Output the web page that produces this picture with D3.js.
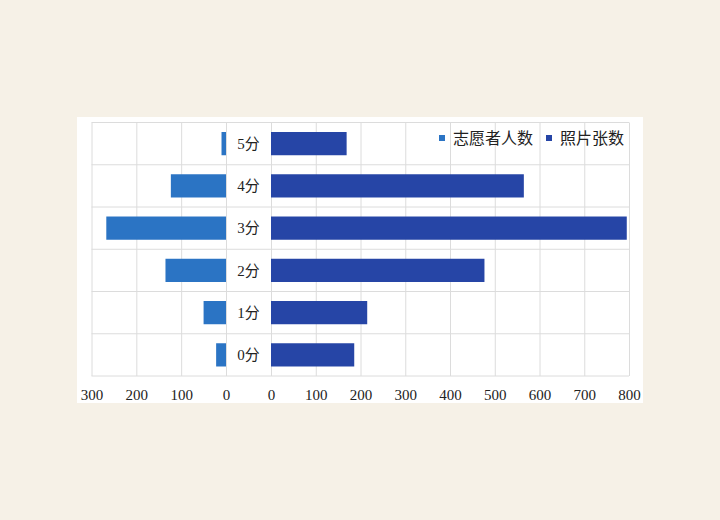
<!DOCTYPE html>
<html>
<head>
<meta charset="utf-8">
<script src="https://cdn.jsdelivr.net/npm/d3@7"></script>
<style>
  body { margin: 0; background: #f6f1e7; }
  text { font-family: "Liberation Serif", "Noto Sans CJK SC", serif; fill: #222; }
</style>
</head>
<body>
<div id="chart"></div>
<script>
// data
var categories = ["0分", "1分", "2分", "3分", "4分", "5分"]
var volunteers = [22, 50, 135, 267, 123, 10]      // 志愿者人数
var photos = [186, 215, 477, 795, 565, 169]       // 照片张数
var leftTicks = [300, 200, 100, 0]
var rightTicks = [0, 100, 200, 300, 400, 500, 600, 700, 800]
var seriesNames = ["志愿者人数", "照片张数"]
var seriesColors = ["#2b74c4", "#2645a6"]

function renderChart(frame_id) {
    let width = 720
    let height = 520
    let top = 122.5, bottom = 376

    var svg = d3.select("#" + frame_id)
        .append("svg")
        .attr("width", width)
        .attr("height", height)

    // white card
    svg.append("rect")
        .attr("x", 77).attr("y", 117)
        .attr("width", 566).attr("height", 286)
        .attr("fill", "#fff")

    var xLeft = d3.scaleLinear().domain([300, 0]).range([91.5, 226])
    var xRight = d3.scaleLinear().domain([0, 800]).range([271, 629])

    var y = d3.scaleBand()
        .domain(categories.slice().reverse())
        .range([top, bottom])
        .paddingInner(0.45)
        .paddingOuter(0.225)

    var rows = d3.scaleBand().domain(categories.slice().reverse()).range([top, bottom])

    // horizontal gridlines across whole plot
    var hLines = categories.map(c => rows(c)).concat([bottom])
    svg.selectAll("hline")
        .data(hLines)
        .enter()
        .append("line")
        .attr("x1", xLeft(300)).attr("x2", xRight(800))
        .attr("y1", d => d).attr("y2", d => d)
        .attr("stroke", "#dcdcdc")
        .style("stroke-width", "1px")

    // vertical gridlines
    svg.append("g")
        .attr("transform", "translate(0," + bottom + ")")
        .call(d3.axisBottom(xLeft).tickValues(leftTicks).tickSize(-(bottom - top)).tickFormat(""))
        .call(g => g.select(".domain").remove())
        .call(g => g.selectAll("line").attr("stroke", "#dcdcdc"))

    svg.append("g")
        .attr("transform", "translate(0," + bottom + ")")
        .call(d3.axisBottom(xRight).tickValues(rightTicks).tickSize(-(bottom - top)).tickFormat(""))
        .call(g => g.select(".domain").remove())
        .call(g => g.selectAll("line").attr("stroke", "#dcdcdc"))

    // bars
    svg.selectAll("leftbars")
        .data(categories)
        .enter()
        .append("rect")
        .attr("x", (d, i) => xLeft(volunteers[i]))
        .attr("width", (d, i) => xLeft(0) - xLeft(volunteers[i]))
        .attr("y", d => y(d))
        .attr("height", y.bandwidth())
        .attr("fill", seriesColors[0])

    svg.selectAll("rightbars")
        .data(categories)
        .enter()
        .append("rect")
        .attr("x", xRight(0))
        .attr("width", (d, i) => xRight(photos[i]) - xRight(0))
        .attr("y", d => y(d))
        .attr("height", y.bandwidth())
        .attr("fill", seriesColors[1])

    // category labels in the middle
    svg.selectAll("catlabels")
        .data(categories)
        .enter()
        .append("text")
        .attr("x", 248.5)
        .attr("y", d => rows(d) + rows.bandwidth() / 2)
        .attr("dy", "0.35em")
        .style("text-anchor", "middle")
        .style("font-size", "15px")
        .text(d => d)

    // tick labels
    svg.append("g")
        .attr("transform", "translate(0," + (bottom + 10) + ")")
        .call(d3.axisBottom(xLeft).tickValues(leftTicks).tickSize(0))
        .call(g => g.select(".domain").remove())
        .call(g => g.selectAll("text").style("font-size", "15px").attr("fill", "#222"))

    svg.append("g")
        .attr("transform", "translate(0," + (bottom + 10) + ")")
        .call(d3.axisBottom(xRight).tickValues(rightTicks).tickSize(0))
        .call(g => g.select(".domain").remove())
        .call(g => g.selectAll("text").style("font-size", "15px").attr("fill", "#222"))

    // legend
    var legendX = [439, 546]
    var legend = svg.selectAll("legend")
        .data(seriesNames)
        .enter()
        .append("g")
        .attr("transform", (d, i) => "translate(" + legendX[i] + ",138)")

    legend.append("rect")
        .attr("x", 0).attr("y", -3)
        .attr("width", 6).attr("height", 6)
        .attr("fill", (d, i) => seriesColors[i])

    legend.append("text")
        .attr("x", 14)
        .attr("dy", "0.35em")
        .style("font-size", "16px")
        .text(d => d)
}

renderChart("chart")
</script>
</body>
</html>
